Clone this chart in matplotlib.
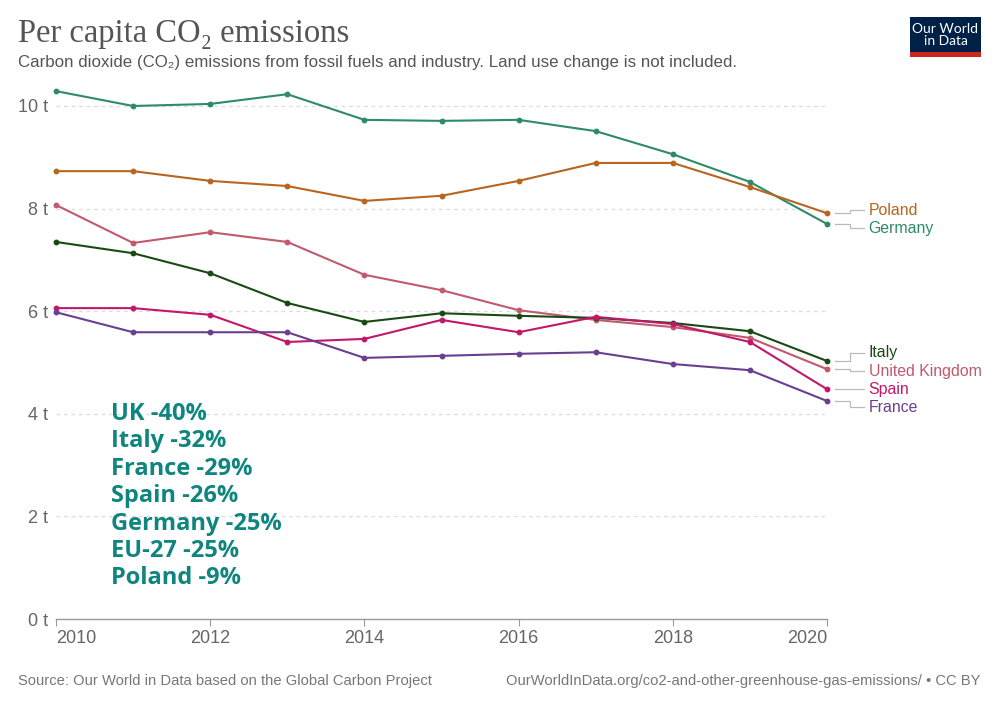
import matplotlib.pyplot as plt
from matplotlib.patches import Rectangle

# per capita CO2 emissions, tonnes
years = [2010, 2011, 2012, 2013, 2014, 2015, 2016, 2017, 2018, 2019, 2020]
germany = [10.29, 10.00, 10.04, 10.23, 9.73, 9.71, 9.73, 9.51, 9.06, 8.52, 7.70]
poland = [8.73, 8.73, 8.54, 8.44, 8.15, 8.25, 8.54, 8.89, 8.89, 8.42, 7.91]
uk = [8.07, 7.33, 7.54, 7.35, 6.71, 6.41, 6.02, 5.83, 5.69, 5.48, 4.87]
italy = [7.35, 7.13, 6.74, 6.16, 5.79, 5.96, 5.91, 5.87, 5.77, 5.61, 5.03]
spain = [6.06, 6.06, 5.93, 5.40, 5.46, 5.83, 5.59, 5.89, 5.75, 5.40, 4.48]
france = [5.98, 5.59, 5.59, 5.59, 5.09, 5.13, 5.17, 5.20, 4.97, 4.85, 4.25]

names = ["Germany", "Poland", "United Kingdom", "Italy", "Spain", "France"]
colors = ["#2f8a6c", "#b8651f", "#c15a6e", "#1a4a14", "#c2186a", "#6b3f8f"]
series = [germany, poland, uk, italy, spain, france]

changes = ["UK -40%", "Italy -32%", "France -29%", "Spain -26%",
           "Germany -25%", "EU-27 -25%", "Poland -9%"]

yticks = [0, 2, 4, 6, 8, 10]
xticks = [2010, 2012, 2014, 2016, 2018, 2020]

# where the end labels sit (value units), to keep them apart
label_y = {"Poland": 7.97, "Germany": 7.62, "Italy": 5.19,
           "United Kingdom": 4.83, "Spain": 4.48, "France": 4.13}

fig = plt.figure(figsize=(10, 7.06), dpi=100)
ax = fig.add_axes([0.056, 0.1232, 0.771, 0.763])
ax.set_xlim(2010, 2020)
ax.set_ylim(0, 10.5)

for y in yticks[1:]:
    ax.axhline(y, color="#dddddd", linestyle=(0, (3, 3)), linewidth=0.9, zorder=0)

for name, vals, c in zip(names, series, colors):
    ax.plot(years, vals, color=c, linewidth=1.5, marker="o", markersize=3.2,
            clip_on=False, zorder=3)
    # connector + label at the right end
    y0 = vals[-1]
    ly = label_y[name]
    ax.plot([2020.10, 2020.30, 2020.30, 2020.48], [y0, y0, ly, ly],
            color="#bbbbbb", linewidth=0.9, clip_on=False)
    ax.text(2020.54, ly, name, color=c, fontsize=11.4, va="center", ha="left",
            family="Liberation Sans")

for s in ["top", "right", "left"]:
    ax.spines[s].set_visible(False)
ax.spines["bottom"].set_color("#999999")
ax.spines["bottom"].set_linewidth(1)

ax.set_yticks(yticks)
ax.set_yticklabels([f"{v} t" for v in yticks], family="Liberation Sans",
                   fontsize=13, color="#666666")
ax.tick_params(axis="y", length=0, pad=6)
ax.set_xticks(xticks)
ax.set_xticklabels([str(v) for v in xticks], family="Liberation Sans",
                   fontsize=13, color="#666666")
ax.tick_params(axis="x", length=5, color="#999999", pad=3)
xl = ax.get_xticklabels()
xl[0].set_ha("left")
xl[-1].set_ha("right")

for i, t in enumerate(changes):
    ax.text(2010.71, 4.0 - i * 0.535, t, color="#0f857f", fontsize=17,
            fontweight="bold", family="Open Sans", va="center", ha="left")

fig.text(0.018, 0.952, "Per capita CO₂ emissions", family=["Liberation Serif", "DejaVu Serif"],
         fontsize=23.5, color="#555555", va="center")
fig.text(0.018, 0.911, "Carbon dioxide (CO₂) emissions from fossil fuels and industry. "
         "Land use change is not included.", family=["Liberation Sans", "DejaVu Sans"],
         fontsize=12.2, color="#555555", va="center")
fig.text(0.018, 0.035, "Source: Our World in Data based on the Global Carbon Project",
         family="Liberation Sans", fontsize=10.6, color="#777777", va="center")
fig.text(0.981, 0.035, "OurWorldInData.org/co2-and-other-greenhouse-gas-emissions/ • CC BY",
         family="Liberation Sans", fontsize=10.6, color="#777777", va="center", ha="right")

# logo
fig.patches.append(Rectangle((0.910, 0.926), 0.071, 0.050, transform=fig.transFigure,
                             facecolor="#002147", edgecolor="none"))
fig.patches.append(Rectangle((0.910, 0.919), 0.071, 0.007, transform=fig.transFigure,
                             facecolor="#ce261e", edgecolor="none"))
fig.text(0.9455, 0.951, "Our World\nin Data", family="Lato", fontsize=10,
         color="white", ha="center", va="center", linespacing=1.0)

fig.savefig("out.png", dpi=100)
